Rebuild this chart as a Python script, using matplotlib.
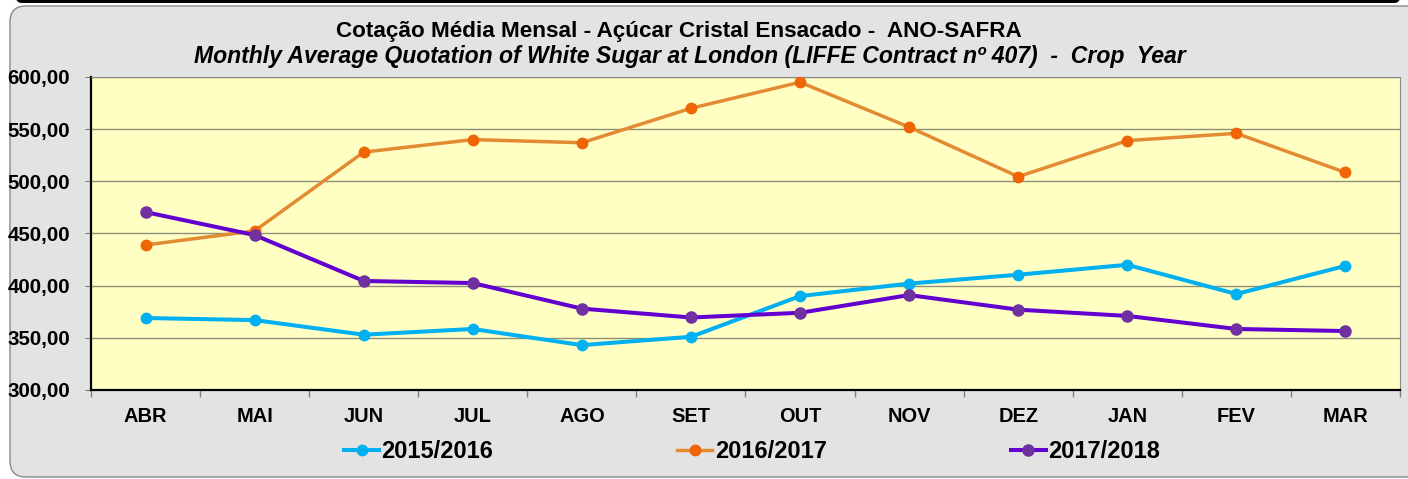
import numpy as np
import matplotlib.pyplot as plt
from matplotlib.patches import FancyBboxPatch
from matplotlib.ticker import FuncFormatter, MultipleLocator

# Dados
meses = ["ABR", "MAI", "JUN", "JUL", "AGO", "SET", "OUT", "NOV", "DEZ", "JAN", "FEV", "MAR"]
safra_15_16 = [369, 367, 353, 358.5, 343, 351, 390, 402, 410.5, 420, 392, 419]
safra_16_17 = [439, 452.5, 528, 540, 537, 570, 595, 552, 504.5, 539, 546, 508.5]
safra_17_18 = [470.5, 448.5, 404.5, 402.5, 378, 369.5, 374, 391, 377, 371, 358.5, 356.5]

plt.rcParams['font.family'] = ['Liberation Sans', 'DejaVu Sans']

W, H = 1408, 479
fig = plt.figure(figsize=(W / 100, H / 100), dpi=100)
fig.patch.set_facecolor("white")

# fundo cinza arredondado (coordenadas em pixels)
bg = fig.add_axes([0, 0, 1, 1], zorder=-1)
bg.set_xlim(0, W)
bg.set_ylim(H, 0)
bg.axis("off")
bg.add_patch(FancyBboxPatch((16, -10), 1384, 13, boxstyle="round,pad=0,rounding_size=6",
                            fc="black", ec="none"))
bg.add_patch(FancyBboxPatch((10, 6), 1420, 471, boxstyle="round,pad=0,rounding_size=16",
                            fc="#e3e3e3", ec="#8a8a8a", lw=1))

# area do grafico
left, right, top, bottom = 91, 1400, 77, 390
ax = fig.add_axes([left / W, 1 - bottom / H, (right - left) / W, (bottom - top) / H], zorder=1)
ax.set_facecolor("#ffffc4")

x = np.arange(len(meses))
ax.plot(x, safra_15_16, color="#00b0f0", lw=2.9, marker="o", ms=7.5,
        mfc="#00b0f0", mec="#00b0f0", label="2015/2016", zorder=3)
ax.plot(x, safra_16_17, color="#e38b32", lw=2.5, marker="o", ms=7.5,
        mfc="#ef6405", mec="#ef6405", label="2016/2017", zorder=4)
ax.plot(x, safra_17_18, color="#6200d0", lw=2.9, marker="o", ms=8,
        mfc="#7030a0", mec="#7030a0", label="2017/2018", zorder=5)

ax.set_xlim(-0.5, len(meses) - 0.5)
ax.set_ylim(300, 600)
ax.yaxis.set_major_locator(MultipleLocator(50))
ax.yaxis.set_major_formatter(FuncFormatter(lambda v, p: f"{v:.2f}".replace(".", ",")))
ax.grid(axis="y", color="#8f8f78", lw=1)
ax.set_axisbelow(True)

ax.set_xticks(x)
ax.set_xticklabels(meses, fontsize=14.4, fontweight="bold")
ax.set_xticks(np.arange(-0.5, len(meses)), minor=True)
ax.tick_params(axis="x", which="major", length=0, pad=12)
ax.tick_params(axis="x", which="minor", length=5, color="#808080", width=1)
ax.tick_params(axis="y", which="major", length=4, color="#808080", labelsize=14.8, pad=11)
for lbl in ax.get_yticklabels():
    lbl.set_fontweight("bold")

ax.spines["left"].set_color("black")
ax.spines["left"].set_linewidth(1.6)
ax.spines["bottom"].set_color("black")
ax.spines["bottom"].set_linewidth(1.6)
ax.spines["top"].set_color("#8a8a8a")
ax.spines["right"].set_color("#8a8a8a")

fig.text(679 / W, 1 - 31 / H, "Cotação Média Mensal - Açúcar Cristal Ensacado -  ANO-SAFRA",
         ha="center", va="center", fontsize=16.2, fontweight="bold")
fig.text(690 / W, 1 - 57 / H,
         "Monthly Average Quotation of White Sugar at London (LIFFE Contract nº 407)  -  Crop  Year",
         ha="center", va="center", fontsize=16.6, fontweight="bold", style="italic")

fig.legend(loc="center", bbox_to_anchor=(752 / W, 1 - 452 / H), ncol=3, frameon=False,
           prop={"size": 17, "weight": "bold"}, handlelength=1.48, handletextpad=0.1,
           columnspacing=7.8, borderaxespad=0)

fig.savefig("out.png", dpi=100)
